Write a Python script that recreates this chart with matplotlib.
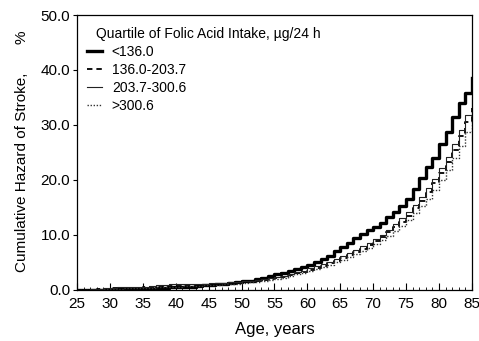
import numpy as np
import matplotlib.pyplot as plt
from matplotlib.ticker import MultipleLocator, FormatStrFormatter

plt.rcParams['font.family'] = ['Liberation Sans', 'DejaVu Sans']

# ages at which the step values start (yearly steps, 25..85)
ages = np.arange(25, 86)

q1 = [0, 0, 0, 0, 0.05, 0.05, 0.1, 0.1, 0.1, 0.15, 0.15, 0.2, 0.3, 0.4, 0.45,
      0.5, 0.55, 0.6, 0.7, 0.8, 0.9, 1.0, 1.1, 1.25, 1.4, 1.55, 1.7, 1.9, 2.2, 2.5,
      2.8, 3.1, 3.4, 3.8, 4.2, 4.6, 5.0, 5.6, 6.2, 7.0, 7.8, 8.5, 9.4, 10.2, 10.8,
      11.4, 12.2, 13.2, 14.2, 15.3, 16.5, 18.3, 20.3, 22.3, 24.0, 26.5, 28.7, 31.5,
      34.0, 35.8, 38.5]
q2 = [0, 0, 0.05, 0.1, 0.2, 0.25, 0.3, 0.3, 0.35, 0.4, 0.45, 0.5, 0.6, 0.65, 0.7,
      0.75, 0.8, 0.85, 0.9, 0.95, 1.0, 1.05, 1.1, 1.2, 1.3, 1.4, 1.5, 1.6, 1.8, 2.0,
      2.2, 2.4, 2.7, 3.0, 3.3, 3.6, 4.0, 4.4, 4.8, 5.3, 5.8, 6.3, 6.9, 7.5, 8.1,
      8.8, 9.6, 10.5, 11.4, 12.4, 13.5, 14.8, 16.2, 17.8, 19.5, 21.3, 23.3, 25.5,
      28.0, 30.5, 33.0]
q3 = [0, 0, 0.1, 0.2, 0.3, 0.4, 0.45, 0.5, 0.5, 0.55, 0.6, 0.65, 0.9, 0.95, 1.0,
      1.0, 1.05, 1.1, 1.1, 1.15, 1.2, 1.25, 1.3, 1.35, 1.45, 1.55, 1.65, 1.75, 1.95, 2.15,
      2.4, 2.6, 2.9, 3.2, 3.5, 3.9, 4.3, 4.7, 5.1, 5.6, 6.1, 6.7, 7.3, 7.9, 8.5,
      9.2, 10.0, 10.9, 11.9, 13.0, 14.1, 15.4, 16.9, 18.5, 20.2, 22.1, 24.2, 26.5,
      29.0, 31.8, 35.0]
q4 = [0, 0, 0, 0.05, 0.1, 0.15, 0.2, 0.25, 0.3, 0.3, 0.35, 0.4, 0.45, 0.5, 0.55,
      0.6, 0.65, 0.7, 0.75, 0.8, 0.85, 0.9, 1.0, 1.05, 1.15, 1.25, 1.35, 1.45, 1.6, 1.8,
      2.0, 2.2, 2.5, 2.8, 3.1, 3.4, 3.8, 4.2, 4.6, 5.0, 5.5, 6.0, 6.5, 7.1, 7.7,
      8.3, 9.0, 9.8, 10.7, 11.7, 12.7, 13.9, 15.2, 16.6, 18.2, 19.9, 21.8, 23.9,
      26.2, 28.7, 31.5]

labels = ['<136.0', '136.0-203.7', '203.7-300.6', '>300.6']

fig = plt.figure(figsize=(4.79, 3.41), dpi=100)
ax = fig.add_axes([0.161, 0.150, 0.824, 0.806])

ax.step(ages, q1, where='post', color='black', lw=2.4, label=labels[0])
ax.step(ages, q2, where='post', color='black', lw=1.3, ls=(0, (3, 2.2)), label=labels[1])
ax.step(ages, q3, where='post', color='#222222', lw=0.8, label=labels[2])
ax.step(ages, q4, where='post', color='#333333', lw=1.0, ls=(0, (1, 1.2)), label=labels[3])

ax.set_xlim(25, 85)
ax.set_ylim(0, 50)
ax.xaxis.set_major_locator(MultipleLocator(5))
ax.xaxis.set_minor_locator(MultipleLocator(1))
ax.yaxis.set_major_locator(MultipleLocator(10))
ax.yaxis.set_major_formatter(FormatStrFormatter('%.1f'))
ax.tick_params(axis='x', which='major', direction='in', length=5, width=0.8, labelsize=11, pad=5)
ax.tick_params(axis='x', which='minor', direction='in', length=2.5, width=0.6)
ax.tick_params(axis='y', direction='out', length=3, width=0.8, labelsize=11, pad=2)
for s in ax.spines.values():
    s.set_linewidth(0.9)

ax.set_xlabel('Age, years', fontsize=12, labelpad=8)
fig.text(22 / 479, 1 - 172 / 341, 'Cumulative Hazard of Stroke,', rotation=90,
         ha='center', va='center', fontsize=11)
fig.text(22 / 479, 1 - 37 / 341, '%', rotation=90, ha='center', va='center', fontsize=11)

ax.text(0.047, 0.93, 'Quartile of Folic Acid Intake, \u00b5g/24 h', transform=ax.transAxes,
        fontsize=10, ha='left', va='center')
ax.legend(loc='upper left', bbox_to_anchor=(0.0, 0.925), frameon=False, fontsize=10,
          handlelength=1.1, handletextpad=0.7, labelspacing=0.27, borderaxespad=0.3)

fig.savefig('out.png', dpi=100)
